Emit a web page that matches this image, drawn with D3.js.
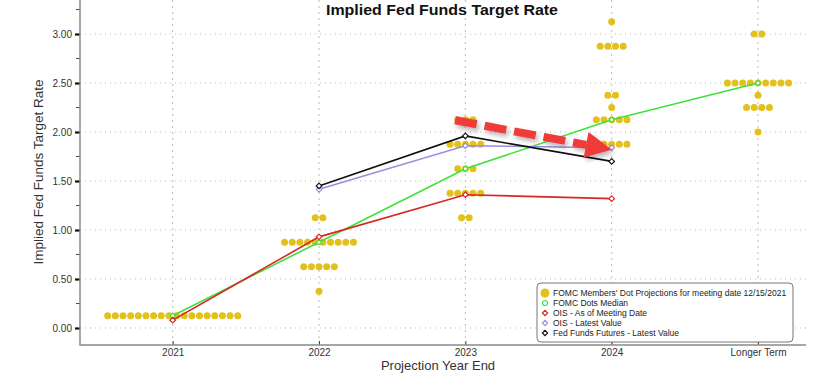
<!DOCTYPE html>
<html lang="en">
<head>
<meta charset="UTF-8">
<title>Implied Fed Funds Target Rate</title>
<script src="https://d3js.org/d3.v7.min.js"></script>
<style>
    body { margin: 0; background: #fff; }
    text { font-family: "Liberation Sans", Arial, sans-serif; }
    .tick text { fill: #333; font-size: 10px; }
</style>
</head>
<body>
<script>
// categories on the x axis
const categories = ["2021", "2022", "2023", "2024", "Longer Term"];

// FOMC dot plot, per category: [rate, number of members]
const dots2021 = [[0.125, 18]];
const dots2022 = [[0.375, 1], [0.625, 5], [0.875, 10], [1.125, 2]];
const dots2023 = [[1.125, 2], [1.375, 5], [1.625, 3], [1.875, 5], [2.125, 3]];
const dots2024 = [[1.875, 5], [2.125, 5], [2.25, 1], [2.375, 2], [2.875, 4], [3.125, 1]];
const dotsLonger = [[2.0, 1], [2.25, 4], [2.375, 1], [2.5, 9], [3.0, 2]];
const dotSets = [dots2021, dots2022, dots2023, dots2024, dotsLonger];

// lines (null = no value)
const medianDots = [0.125, 0.875, 1.625, 2.125, 2.5];
const oisMeeting = [0.08, 0.93, 1.36, 1.32, null];
const oisLatest  = [null, 1.415, 1.86, 1.84, null];
const ffFutures  = [null, 1.45, 1.96, 1.70, null];

const yTicks = [0, 0.5, 1, 1.5, 2, 2.5, 3];
const yMinor = [0.25, 0.75, 1.25, 1.75, 2.25, 2.75, 3.25];

// annotation arrow, in data space: [category index, rate]
const arrowFrom = [1.93, 2.12];
const arrowTo = [3.0, 1.82];

const width = 816, height = 388;
const axisLeft = 80, axisRight = 806, axisBottom = 345;

const svg = d3.select("body").append("svg")
    .attr("width", width).attr("height", height);

const defs = svg.append("defs");
const f = defs.append("filter").attr("id", "shadow")
    .attr("x", "-20%").attr("y", "-50%").attr("width", "140%").attr("height", "200%");
f.append("feDropShadow").attr("dx", 2).attr("dy", 3).attr("stdDeviation", 2.5)
    .attr("flood-color", "#000").attr("flood-opacity", 0.3);

const x = d3.scaleLinear().domain([0, 4]).range([172.7, 758]);
const y = d3.scaleLinear().domain([-0.1735, 3.347]).range([axisBottom, 0]);

// grid
svg.append("g").selectAll("line").data(yTicks).join("line")
    .attr("x1", axisLeft).attr("x2", axisRight)
    .attr("y1", d => y(d)).attr("y2", d => y(d))
    .attr("stroke", "#bbb").attr("stroke-width", 1).attr("stroke-dasharray", "1,4");
svg.append("g").selectAll("line").data(categories).join("line")
    .attr("x1", (d, i) => x(i)).attr("x2", (d, i) => x(i))
    .attr("y1", 0).attr("y2", axisBottom)
    .attr("stroke", "#bbb").attr("stroke-width", 1).attr("stroke-dasharray", "2,4");

// y axis
const yAxis = d3.axisLeft(y).tickValues(yTicks).tickFormat(d3.format(".2f")).tickSize(5).tickPadding(3);
const gy = svg.append("g").attr("transform", `translate(${axisLeft},0)`).call(yAxis);
gy.select(".domain").remove();
gy.selectAll(".tick line").attr("stroke", "#111").attr("stroke-width", 2.2);
svg.append("g").selectAll("line").data(yMinor).join("line")
    .attr("x1", axisLeft - 4).attr("x2", axisLeft)
    .attr("y1", d => y(d)).attr("y2", d => y(d))
    .attr("stroke", "#444").attr("stroke-width", 1);

// x axis
const xAxis = d3.axisBottom(x).tickValues(d3.range(categories.length))
    .tickFormat(i => categories[i]).tickSize(0).tickPadding(4);
const gx = svg.append("g").attr("transform", `translate(0,${axisBottom})`).call(xAxis);
gx.select(".domain").remove();
gx.selectAll(".tick").append("line").attr("y1", 0).attr("y2", -4)
    .attr("stroke", "#444").attr("stroke-width", 1);

svg.append("path")
    .attr("d", `M${axisLeft},0V${axisBottom}H${axisRight}`)
    .attr("fill", "none").attr("stroke", "#8a8a8a").attr("stroke-width", 1.5);

// dots
const dotStep = 7.65;
const dotData = [];
dotSets.forEach((set, ci) => {
    set.forEach(([rate, n]) => {
        for (let k = 0; k < n; k++) dotData.push({ ci, rate, off: (k - (n - 1) / 2) * dotStep });
    });
});
svg.append("g").selectAll("circle").data(dotData).join("circle")
    .attr("cx", d => x(d.ci) + d.off).attr("cy", d => y(d.rate))
    .attr("r", 3.5).attr("fill", "#e2c11c");

// lines
const series = [
    { values: medianDots, color: "#3ee23a", marker: "circle" },
    { values: oisMeeting, color: "#d92626", marker: "diamond" },
    { values: oisLatest, color: "#9a8ee0", marker: "diamond" },
    { values: ffFutures, color: "#111111", marker: "diamond" }
];
const line = d3.line().defined(d => d.v != null).x(d => x(d.i)).y(d => y(d.v));
series.forEach(s => {
    const pts = s.values.map((v, i) => ({ i, v }));
    svg.append("path").datum(pts).attr("d", line)
        .attr("fill", "none").attr("stroke", s.color).attr("stroke-width", 1.6);
    const m = svg.append("g").selectAll("path").data(pts.filter(p => p.v != null)).join("path")
        .attr("transform", p => `translate(${x(p.i)},${y(p.v)})`)
        .attr("fill", "#fff").attr("stroke", s.color).attr("stroke-width", 1.2);
    if (s.marker === "circle") m.attr("d", d3.symbol(d3.symbolCircle, 14));
    else m.attr("d", "M0,-2.8L2.8,0L0,2.8L-2.8,0Z");
});

// dashed arrow annotation
const ax0 = x(arrowFrom[0]), ay0 = y(arrowFrom[1]);
const ax1 = x(arrowTo[0]), ay1 = y(arrowTo[1]);
const ang = Math.atan2(ay1 - ay0, ax1 - ax0);
const headLen = 26, headW = 13;
const bx = ax1 - headLen * Math.cos(ang), by = ay1 - headLen * Math.sin(ang);
const arrow = svg.append("g").attr("filter", "url(#shadow)");
arrow.append("line")
    .attr("x1", ax0).attr("y1", ay0).attr("x2", bx).attr("y2", by)
    .attr("stroke", "#f03a3a").attr("stroke-width", 8).attr("stroke-dasharray", "22,8");
const nx = -Math.sin(ang), ny = Math.cos(ang);
arrow.append("path")
    .attr("d", `M${ax1},${ay1}L${bx + nx * headW},${by + ny * headW}L${bx - nx * headW},${by - ny * headW}Z`)
    .attr("fill", "#f03a3a");

// legend
const lg = svg.append("g").attr("transform", "translate(537,283)");
lg.append("rect").attr("width", 256).attr("height", 59).attr("rx", 4)
    .attr("fill", "#fff").attr("stroke", "#777").attr("stroke-width", 1);
const legendItems = [
    { label: "FOMC Members' Dot Projections for meeting date 12/15/2021", color: "#e2c11c", kind: "dot" },
    { label: "FOMC Dots Median", color: "#3ee23a", kind: "circle" },
    { label: "OIS - As of Meeting Date", color: "#d92626", kind: "diamond" },
    { label: "OIS - Latest Value", color: "#9a8ee0", kind: "diamond" },
    { label: "Fed Funds Futures - Latest Value", color: "#111111", kind: "diamond" }
];
const li = lg.selectAll("g.item").data(legendItems).join("g")
    .attr("transform", (d, i) => `translate(8,${10 + i * 10})`);
li.each(function (d) {
    const g = d3.select(this);
    if (d.kind === "dot") g.append("circle").attr("r", 4.5).attr("fill", d.color);
    else if (d.kind === "circle") g.append("circle").attr("r", 2.5).attr("fill", "#fff").attr("stroke", d.color).attr("stroke-width", 1.2);
    else g.append("path").attr("d", "M0,-2.6L2.6,0L0,2.6L-2.6,0Z").attr("fill", "#fff").attr("stroke", d.color).attr("stroke-width", 1.2);
});
li.append("text").attr("x", 8).attr("dy", "0.35em")
    .attr("font-size", "8.5px").attr("fill", "#222").text(d => d.label);

// titles
svg.append("text").attr("x", 442).attr("y", 15).attr("text-anchor", "middle")
    .attr("font-family", "'DejaVu Sans', sans-serif")
    .attr("font-size", "14px").attr("font-weight", "bold").attr("fill", "#111")
    .attr("textLength", 232).attr("lengthAdjust", "spacingAndGlyphs")
    .text("Implied Fed Funds Target Rate");
svg.append("text").attr("transform", "translate(43,172) rotate(-90)").attr("text-anchor", "middle")
    .attr("font-size", "13.5px").attr("fill", "#333")
    .text("Implied Fed Funds Target Rate");
svg.append("text").attr("x", 438).attr("y", 370).attr("text-anchor", "middle")
    .attr("font-size", "13px").attr("fill", "#333")
    .text("Projection Year End");
</script>
</body>
</html>
